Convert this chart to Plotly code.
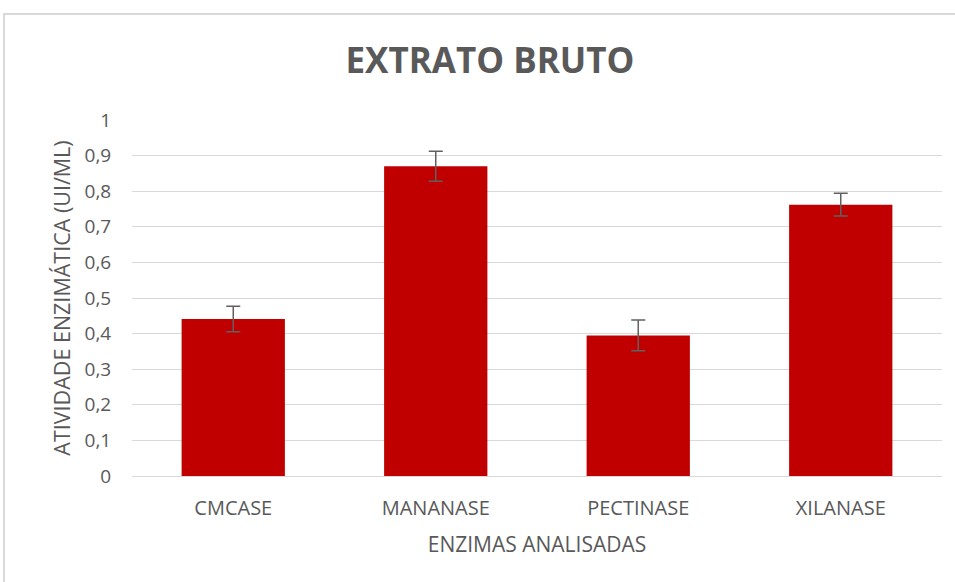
import plotly.graph_objects as go

# data
enzimas = ["CMCASE", "MANANASE", "PECTINASE", "XILANASE"]
atividade = [0.441, 0.870, 0.395, 0.762]
erro = [0.036, 0.042, 0.043, 0.032]
y_ticks = [0, 0.1, 0.2, 0.3, 0.4, 0.5, 0.6, 0.7, 0.8, 0.9, 1]
y_labels = ["0", "0,1", "0,2", "0,3", "0,4", "0,5", "0,6", "0,7", "0,8", "0,9", "1"]

gray = "#595959"
font_family = "Open Sans"

fig = go.Figure()

fig.add_trace(go.Bar(
    x=enzimas,
    y=atividade,
    marker=dict(color="#C00000", line=dict(width=0)),
    error_y=dict(type="data", array=erro, visible=True,
                 color="#606060", thickness=1.5, width=7),
))

fig.update_layout(
    width=955, height=582,
    margin=dict(l=132, r=13, t=120, b=106),
    paper_bgcolor="white",
    plot_bgcolor="white",
    showlegend=False,
    bargap=0.49,
    title=dict(text="<b>EXTRATO BRUTO</b>", x=0.513, xanchor="center",
               y=0.895, yanchor="middle",
               font=dict(family=font_family, size=35, color=gray)),
    font=dict(family=font_family, color=gray),
    xaxis=dict(
        title=dict(text="ENZIMAS ANALISADAS", standoff=17,
                   font=dict(size=21, color=gray)),
        tickfont=dict(size=20, color=gray),
        showline=True, linecolor="#D9D9D9", linewidth=1,
        ticks="outside", ticklen=14, tickcolor="white", showgrid=False,
    ),
    yaxis=dict(
        title=dict(text="ATIVIDADE ENZIMÁTICA (UI/ML)", standoff=8,
                   font=dict(size=21.5, color=gray)),
        range=[0, 1],
        tickvals=y_ticks, ticktext=y_labels,
        tickfont=dict(size=19, color=gray),
        gridcolor="#D9D9D9", gridwidth=1,
        zeroline=False, ticks="outside", ticklen=16, tickcolor="white",
    ),
    shapes=[
        # chart border (Excel style frame)
        dict(type="rect", xref="paper", yref="paper",
             x0=-0.158, x1=1.03, y0=-0.34, y1=1.298,
             line=dict(color="#D9D9D9", width=2), fillcolor="rgba(0,0,0,0)",
             layer="below"),
    ],
)

# the page's default body margin would shift the chart by 8px
fig.write_html("out.html", config={"displayModeBar": False},
               post_script="document.body.style.margin='0';")
